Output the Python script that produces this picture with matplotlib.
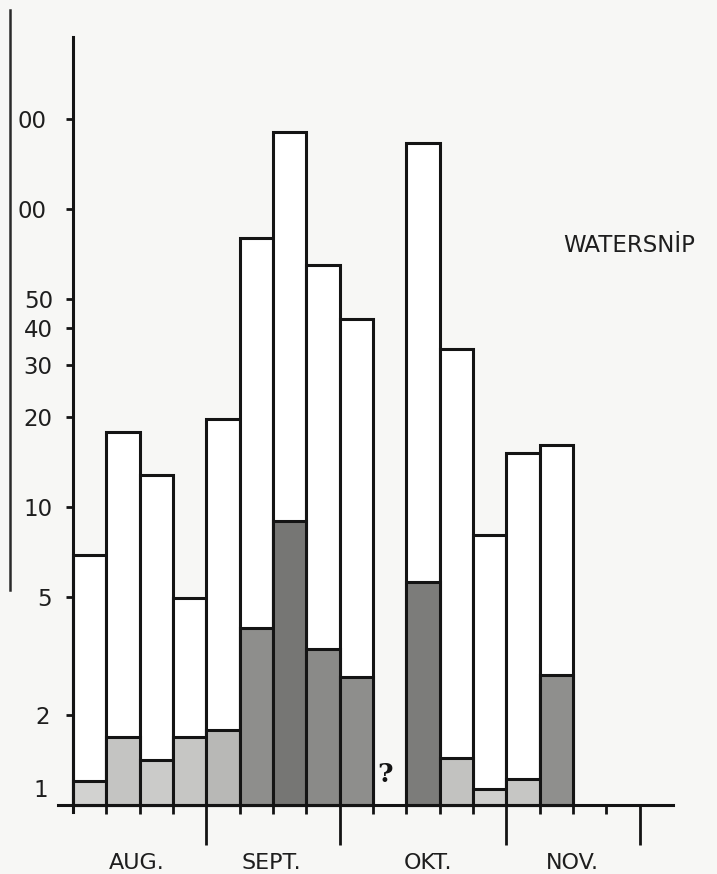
import matplotlib
matplotlib.use('Agg')
import matplotlib.pyplot as plt
from matplotlib.ticker import NullLocator
from matplotlib.transforms import ScaledTranslation

# Watersnip counts per week slot (log scale), slot 9 unknown ("?")
week = [0, 1, 2, 3, 4, 5, 6, 7, 8, 10, 11, 12, 13, 14]
totals = [6.9, 17.9, 12.8, 4.95, 19.7, 80, 181, 65, 42.7, 166, 33.9, 8.05, 15.2, 16.1]
shaded = [1.2, 1.69, 1.42, 1.69, 1.78, 3.93, 9.0, 3.34, 2.69, 5.6, 1.44, 1.13, 1.22, 2.73]
shade_colors = ['#d2d2d0', '#c4c4c2', '#cbcbc9', '#c6c6c4', '#b8b8b6', '#8e8e8c',
                '#767674', '#8a8a88', '#8e8e8c', '#7c7c7a', '#c2c2c0', '#cfcfcd',
                '#c6c6c4', '#8f8f8d']

ytick_vals = [1, 2, 5, 10, 20, 30, 40, 50, 100, 200]
ytick_labels = ['1', '2', '5', '10', '20', '30', '40', '50', '00', '00']
# hand lettered labels sit a bit off the tick (pixels: dx, dy)
ytick_shift = [(-5, 17), (-3, 0), (-1, 0), (0, 0), (0, 0), (-1, 0), (0, 0), (0, 0), (-6, 0), (-6, 0)]

month_boundaries = [4, 8, 13, 17]
week_boundaries = [1, 2, 3, 5, 6, 7, 9, 10, 11, 12, 14, 15, 16]
months = ['AUG.', 'SEPT.', 'OKT.', 'NOV.']
month_x = [1.9, 5.95, 10.65, 14.97]

paper = '#f7f7f5'
ink = '#141414'

fig = plt.figure(figsize=(7.17, 8.74), dpi=100, facecolor=paper)
ax = fig.add_axes([0, 0, 1, 1], facecolor=paper)
ax.set_yscale('log')
ax.set_xlim(-2.19, 19.32)
ax.set_ylim(0.587, 502.6)

# outer (white) bars and shaded part
ax.bar(week, [t - 1 for t in totals], bottom=1, width=1, align='edge',
       color='white', edgecolor=ink, linewidth=2.2, zorder=2)
ax.bar(week, [s - 1 for s in shaded], bottom=1, width=1, align='edge',
       color=shade_colors, edgecolor=ink, linewidth=2.2, zorder=3)

# axes lines
for s in ['top', 'right']:
    ax.spines[s].set_visible(False)
ax.spines['left'].set_position(('data', 0))
ax.spines['left'].set_bounds(0.95, 378)
ax.spines['bottom'].set_position(('data', 1))
ax.spines['bottom'].set_bounds(-0.45, 18.0)
for s in ['left', 'bottom']:
    ax.spines[s].set_linewidth(2.2)
    ax.spines[s].set_color(ink)
    ax.spines[s].set_zorder(4)

ax.yaxis.set_minor_locator(NullLocator())
ax.set_yticks(ytick_vals)
ax.set_yticklabels(ytick_labels)
ax.tick_params(axis='y', which='major', direction='out', length=5, width=2,
               color=ink, pad=9.5, labelsize=16.5, labelcolor='#1e1e1e')
for lab, (dx, dy) in zip(ax.get_yticklabels(), ytick_shift):
    lab.set_transform(lab.get_transform() + ScaledTranslation(dx / 100, dy / 100, fig.dpi_scale_trans))

ax.set_xticks(month_boundaries)
ax.set_xticks(week_boundaries, minor=True)
ax.set_xticklabels([])
ax.tick_params(axis='x', which='major', direction='out', length=29, width=2, color=ink)
ax.tick_params(axis='x', which='minor', direction='out', length=6.5, width=2, color=ink)

for m, x in zip(months, month_x):
    ax.text(x, 0.0125, m, transform=ax.get_xaxis_transform(), ha='center',
            va='center', fontsize=16, color='#1e1e1e')

ax.text(629 / 717, 1 - 245 / 874, 'WATERSNİP', transform=ax.transAxes,
        ha='center', va='center', fontsize=16.5, color='#1e1e1e')

ax.text(9.36, 1.27, '?', ha='center', va='center', fontsize=19,
        fontweight='bold', family='serif', color=ink, zorder=5)

# edge of the scanned page
ax.plot([10 / 717, 10 / 717], [1 - 10 / 874, 1 - 590 / 874], transform=ax.transAxes,
        color='#2a2a2a', linewidth=1.8)

fig.savefig('out.png', dpi=100, facecolor=paper)
